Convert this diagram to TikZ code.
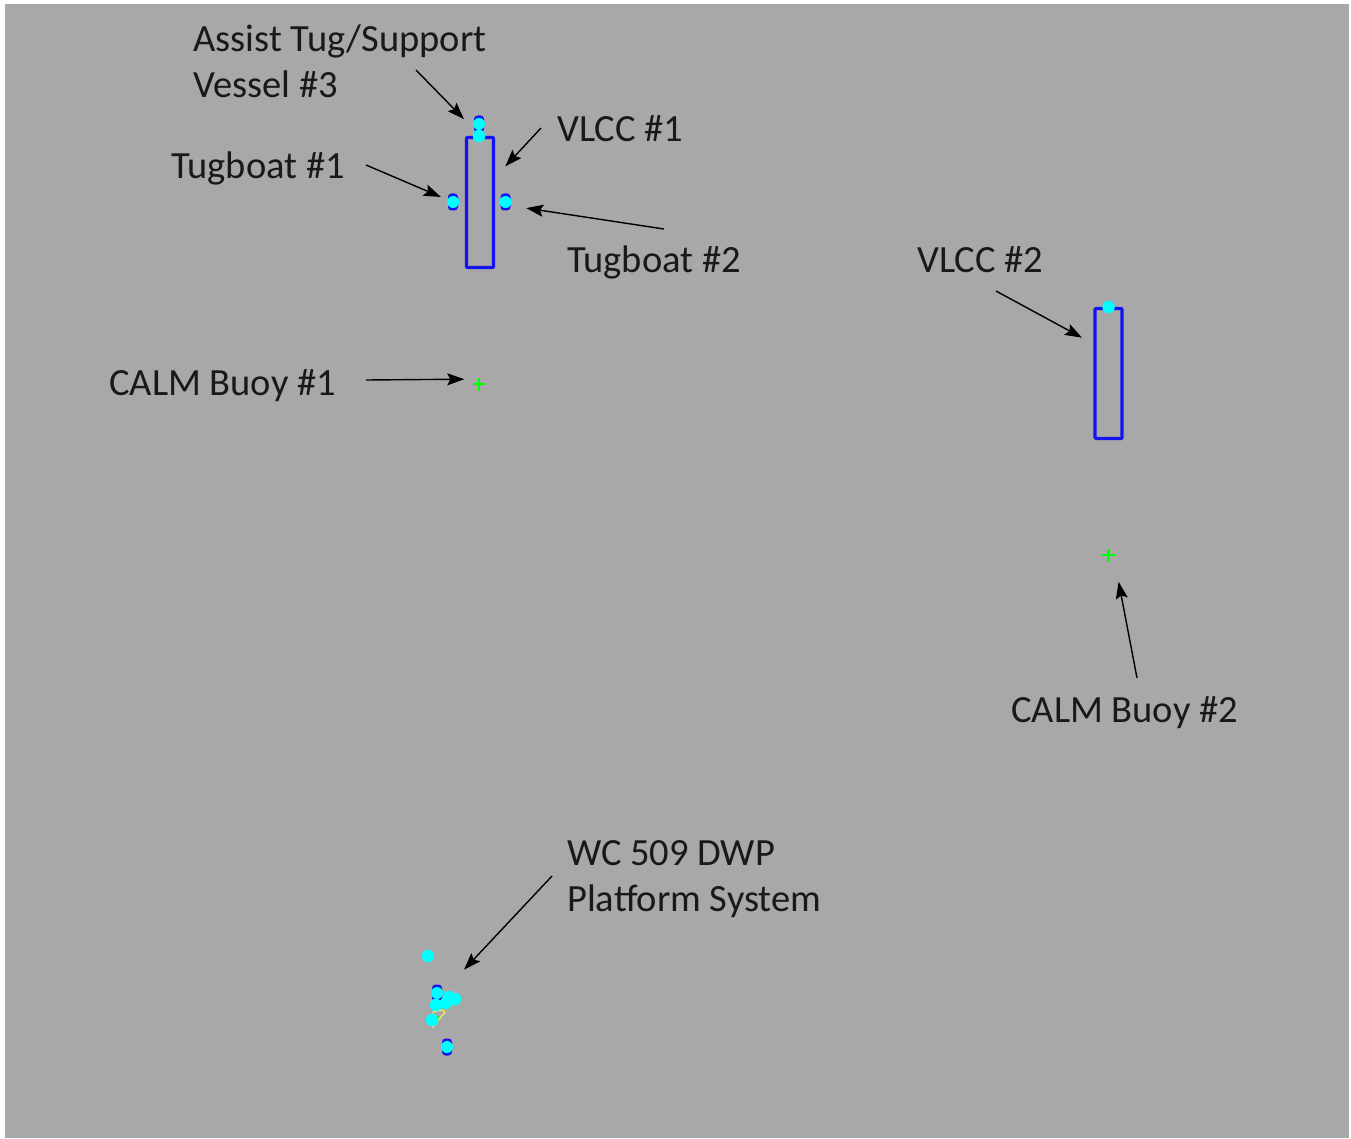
\documentclass[tikz,border=0pt]{standalone}
\usepackage{fontspec}
\setmainfont{Carlito}
\usetikzlibrary{arrows.meta, calc}
\definecolor{seagray}{HTML}{A8A8A8}
\definecolor{hullblue}{HTML}{1414F0}
\definecolor{dotcyan}{HTML}{00FFFF}
\definecolor{buoygreen}{HTML}{00FF00}
\begin{document}
\begin{tikzpicture}[
    x=1pt, y=-1pt,
    lbl/.style={anchor=base west, inner sep=0pt, align=left, text=black!90,
      font=\fontsize{38.5}{46}\selectfont},
    vlcc/.style={rectangle, draw=hullblue, line width=3.2pt, rounded corners=1pt,
      minimum width=27pt, minimum height=130pt, inner sep=0pt},
    tugbody/.style={rectangle, fill=hullblue, rounded corners=3.5pt,
      minimum width=10pt, minimum height=17pt, inner sep=0pt},
    vessel/.style={circle, fill=dotcyan, minimum size=12.5pt, inner sep=0pt},
    buoy/.style={rectangle, minimum size=13pt, inner sep=0pt, path picture={
      \draw[buoygreen, line width=2.6pt]
        (path picture bounding box.north) -- (path picture bounding box.south)
        (path picture bounding box.west) -- (path picture bounding box.east);}},
    pointer/.style={-{Stealth[length=17pt, width=12pt, inset=3pt]}, line width=1.4pt, black}
  ]
    \useasboundingbox (0,0) rectangle (1351,1139);
    \fill[seagray] (5,4) rectangle (1349,1138);

    % ships and buoys
    \node[vlcc] (vlccOne) at (480,202.5) {};
    \node[vlcc] (vlccTwo) at (1108.5,373.5) {};
    \node[buoy] (buoyOne) at (479,384) {};
    \node[buoy] (buoyTwo) at (1108.5,555) {};

    % tugs, blue body under a cyan dot
    \foreach \nm/\px/\py in {tugOne/453/202, tugTwo/505.5/202, tugThree/479/124,
        tugFour/437/993, tugFive/447/1047} {
      \node[tugbody] (\nm) at (\px,\py) {};
      \node[vessel, minimum size=12pt] (\nm Dot) at (\px,\py) {};
    }
    \node[vessel] (bowOne) at (479,136) {};
    \node[vessel] (bowTwo) at (1108.5,307) {};
    \node[vessel] (supplyBoat) at (428,956) {};

    % platform system
    \draw[yellow!70!white, line width=1pt] (433,1012) -- (442,1010) -- (445,1012) -- (433,1027) -- cycle;
    \fill[buoygreen] (437,1018) circle (2pt);
    \foreach \nm/\px/\py in {hullA/436/1005, hullB/449/997, hullC/455/999,
        hullD/446/1003, hullE/432/1020} {
      \node[vessel] (\nm) at (\px,\py) {};
    }

    % labels
    \node[lbl] (lblAssist) at (193,98) {Assist Tug/Support\\Vessel \#3};
    \node[lbl] (lblTugOne) at (171,179) {Tugboat \#1};
    \node[lbl] (lblVlccOne) at (557,142) {VLCC \#1};
    \node[lbl] (lblTugTwo) at (567,273) {Tugboat \#2};
    \node[lbl] (lblVlccTwo) at (917,273) {VLCC \#2};
    \node[lbl] (lblBuoyOne) at (109,395) {CALM Buoy \#1};
    \node[lbl] (lblBuoyTwo) at (1011,722) {CALM Buoy \#2};
    \node[lbl] (lblPlatform) at (567,911) {WC 509 DWP\\Platform System};

    % tails of the arrows sit just off the labels
    \coordinate (tailAssist) at (416,70);
    \coordinate (tailVlccOne) at (541,128);
    \coordinate (tailTugOne) at (366,165);
    \coordinate (tailTugTwo) at (664,229);
    \coordinate (tailVlccTwo) at (996,291);
    \coordinate (tailBuoyOne) at (366,380);
    \coordinate (tailBuoyTwo) at (1137,678);
    \coordinate (tailPlatform) at (552,876);

    \draw[pointer, shorten >=14pt] (tailAssist) -- (tugThree.225);
    \draw[pointer, shorten >=15pt] (tailVlccOne) -- (vlccOne.59);
    \draw[pointer, shorten >=7.6pt] (tailTugOne) -- (tugOne.158);
    \draw[pointer, shorten >=15.7pt] (tailTugTwo) -- (tugTwo.-36);
    \draw[pointer, shorten >=13pt] (tailVlccTwo) -- (vlccTwo.117);
    \draw[pointer, shorten >=8pt] (tailBuoyOne) -- (buoyOne.144);
    \draw[pointer, shorten >=20.4pt] (tailBuoyTwo) -- (buoyTwo.-47);
    \draw[pointer, shorten >=32pt] (tailPlatform) -- (tugFour.east);
  \end{tikzpicture}
\end{document}
